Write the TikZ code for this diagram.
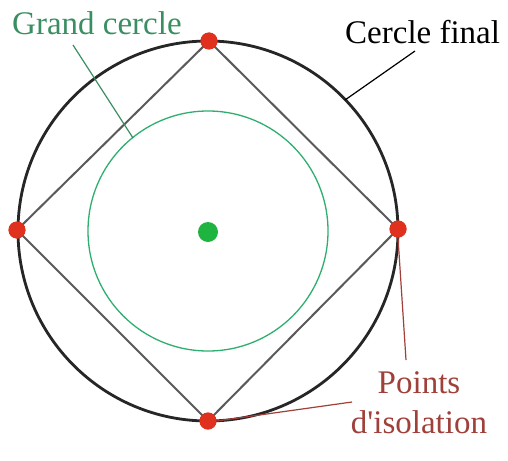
\documentclass[tikz,border=0pt]{standalone}
\usepackage{fontspec}
\setmainfont{Liberation Serif}
\definecolor{ringgreen}{HTML}{2FAF6F}
\definecolor{textgreen}{HTML}{3A8F62}
\definecolor{dotred}{HTML}{E0301E}
\definecolor{dotgreen}{HTML}{1FB43F}
\definecolor{brownred}{HTML}{A0403A}
\definecolor{squaregray}{HTML}{5A5A5A}
\begin{document}
\begin{tikzpicture}[x=1pt,y=-1pt,
  lbl/.style={font=\fontsize{33}{40}\selectfont, inner sep=0pt},
  reddot/.style={circle, fill=dotred, minimum size=17pt, inner sep=0pt},
  pointer/.style={line width=1.2pt}]
\useasboundingbox[fill=white] (0,0) rectangle (508,460);
% circles
\draw[line width=2.8pt, black!85] (208,231) circle (190);
\draw[line width=1.3pt, ringgreen] (208,231) circle (120);
% isolation points
\node[reddot] (top) at (209,41) {};
\node[reddot] (right) at (398,229) {};
\node[reddot] (bottom) at (208,421) {};
\node[reddot] (left) at (17,230) {};
\node[circle, fill=dotgreen, minimum size=20pt, inner sep=0pt] (centre) at (208,232) {};
% square
\draw[line width=2pt, squaregray] (top.center) -- (right.center) -- (bottom.center) -- (left.center) -- cycle;
\node[reddot] at (top) {};
\node[reddot] at (right) {};
\node[reddot] at (bottom) {};
\node[reddot] at (left) {};
% labels
\node[lbl, text=textgreen, anchor=base west] (gc) at (12,35) {Grand cercle};
\node[lbl, text=black, anchor=base west] (cf) at (345,44) {Cercle final};
\node[lbl, text=brownred, align=center, anchor=base] (pi) at (419,433) {Points\\d\textquotesingle isolation};
% pointers
\coordinate (gcA) at (73,45);
\coordinate (gcB) at (133,138);
\coordinate (cfA) at (415,51);
\coordinate (cfB) at (345,100);
\coordinate (piA) at (406,360);
\coordinate (piB) at (352,402);
\draw[pointer, textgreen] (gcA) -- (gcB);
\draw[pointer, black] (cfA) -- (cfB);
\draw[pointer, brownred] (right.south) -- (piA);
\draw[pointer, brownred] (bottom.east) -- (piB);
\end{tikzpicture}
\end{document}
